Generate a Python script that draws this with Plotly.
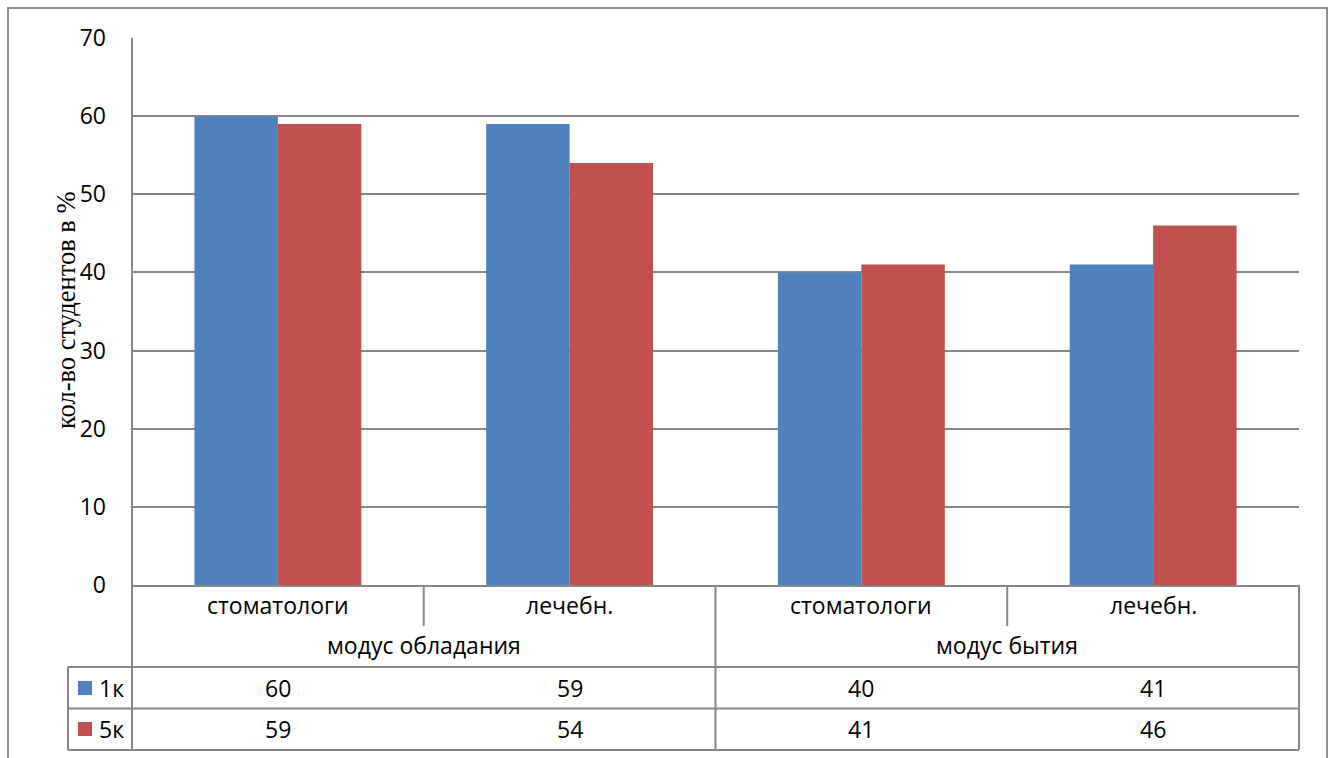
import plotly.graph_objects as go

# ---- data ----
categories = ["стоматологи", "лечебн.", "стоматологи", "лечебн."]
groups = ["модус обладания", "модус бытия"]
series_names = ["1к", "5к"]
values_1k = [60, 59, 40, 41]
values_5k = [59, 54, 41, 46]
y_title = "кол-во студентов в %"

colors = ["#4F81BD", "#C0504D"]
series_values = [values_1k, values_5k]

W, H = 1335, 758
L, R, T, B = 132, 1299, 38, 585   # plot area in pixels
PW, PH = R - L, B - T

def py(ypix):
    return (B - ypix) / PH

def pxx(xpix):
    return (xpix - L) / PW

FONT = "Open Sans, Noto Sans, sans-serif"
FS = 23
GRID = "#878787"

xs = list(range(len(categories)))

fig = go.Figure()
for name, vals, col in zip(series_names, series_values, colors):
    fig.add_trace(go.Bar(x=xs, y=vals, name=name, marker=dict(color=col, line=dict(width=0)),
                         showlegend=False, hoverinfo="y"))

fig.update_layout(
    width=W, height=H,
    margin=dict(l=L, r=W - R, t=T, b=H - B, pad=0),
    paper_bgcolor="white", plot_bgcolor="white",
    barmode="group", bargap=0.428, bargroupgap=0,
    font=dict(family=FONT, size=FS, color="black"),
)
fig.update_xaxes(range=[-0.5, len(categories) - 0.5], showticklabels=False, showgrid=False,
                 zeroline=False, showline=True, linecolor=GRID, linewidth=2, fixedrange=True)
fig.update_yaxes(range=[0, 70], dtick=10, showgrid=True, gridcolor=GRID, gridwidth=2,
                 zeroline=False, showline=False, ticks="", ticklabelstandoff=25,
                 tickfont=dict(family=FONT, size=FS, color="black"), fixedrange=True)

shapes = []
def line(x0, y0, x1, y1, xref="paper"):
    shapes.append(dict(type="line", xref=xref, yref="paper", x0=x0, x1=x1, y0=y0, y1=y1,
                       line=dict(color=GRID, width=2), layer="above"))

# outer chart border
shapes.append(dict(type="rect", xref="paper", yref="paper", x0=pxx(8), x1=pxx(1327),
                   y0=py(800), y1=py(8), line=dict(color="#8f8f8f", width=2), layer="below"))
# left axis line extended through table
line(pxx(L), py(T), pxx(L), py(750))
# right edge of table
line(1, py(B), 1, py(750))
# category separators (short) and group separator (long)
n = len(categories)
per_group = n // len(groups)
for i in range(n - 1):
    xb = i + 0.5
    if (i + 1) % per_group == 0:
        line(xb, py(B), xb, py(750), xref="x")
    else:
        line(xb, py(B), xb, py(626), xref="x")
# table horizontal lines
for yy in (667, 708.5, 750):
    line(pxx(68), py(yy), 1, py(yy))
line(pxx(68), py(667), pxx(68), py(750))

annotations = []
# category labels
for i, c in enumerate(categories):
    annotations.append(dict(x=i, xref="x", y=py(605), yref="paper", text=c, showarrow=False,
                            font=dict(family=FONT, size=FS), yanchor="middle"))
# group labels
for g, name in enumerate(groups):
    xc = g * per_group + (per_group - 1) / 2
    annotations.append(dict(x=xc, xref="x", y=py(645), yref="paper", text=name, showarrow=False,
                            font=dict(family=FONT, size=FS), yanchor="middle"))
# table rows
row_centers = [688, 729]
for r, (name, vals, col) in enumerate(zip(series_names, series_values, colors)):
    yc = row_centers[r]
    shapes.append(dict(type="rect", xref="paper", yref="paper", x0=pxx(78), x1=pxx(92),
                       y0=py(yc + 7), y1=py(yc - 7), fillcolor=col, line=dict(width=0), layer="above"))
    annotations.append(dict(x=pxx(97), xref="paper", y=py(yc), yref="paper", text=name,
                            showarrow=False, xanchor="left", yanchor="middle",
                            font=dict(family=FONT, size=FS)))
    for i, v in enumerate(vals):
        annotations.append(dict(x=i, xref="x", y=py(yc), yref="paper", text=str(v),
                                showarrow=False, yanchor="middle", font=dict(family=FONT, size=FS)))
# y axis title
annotations.append(dict(x=pxx(66), xref="paper", y=py(310), yref="paper", text=y_title, textangle=-90,
                        showarrow=False, xanchor="center", yanchor="middle",
                        font=dict(family="Liberation Serif, Times New Roman, serif", size=26.5)))

fig.update_layout(shapes=shapes, annotations=annotations)
fig.write_html("out.html")
